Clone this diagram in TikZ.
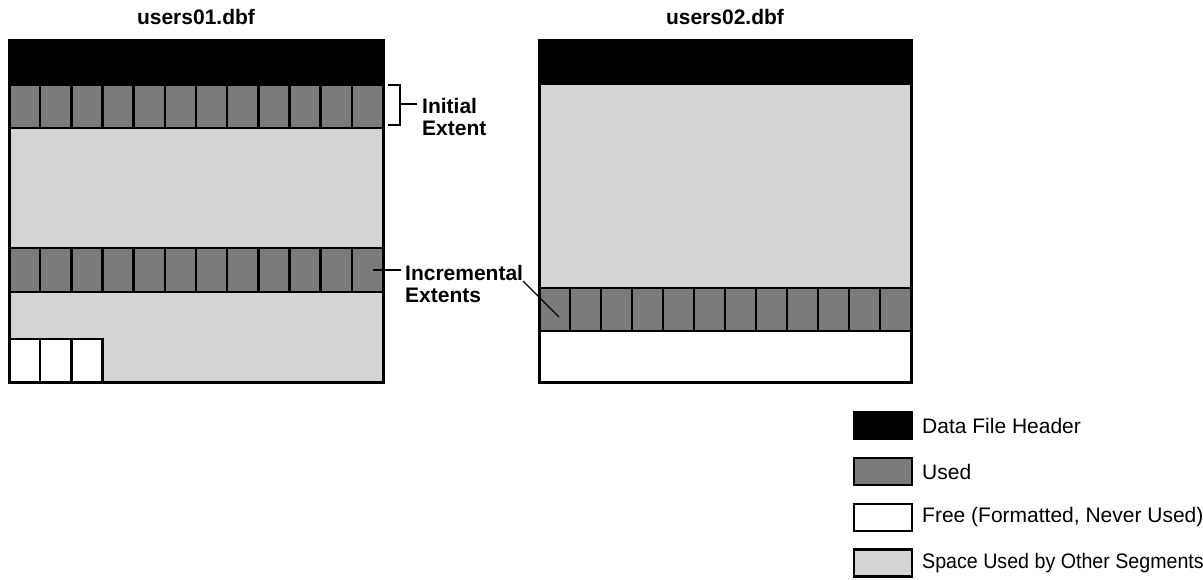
\documentclass[tikz,border=0pt]{standalone}
\usepackage{fontspec}
\setmainfont{Liberation Sans}
\definecolor{usedgray}{RGB}{123,123,123}
\definecolor{othergray}{RGB}{212,212,212}
\begin{document}
\begin{tikzpicture}[x=1pt,y=-1pt,
  lbl/.style={font=\fontsize{21}{22}\selectfont\bfseries, inner sep=0pt},
  legtxt/.style={font=\fontsize{21}{22}\selectfont, inner sep=0pt, anchor=west},
  legbox/.style={draw=black, line width=2.5pt, minimum width=58pt, minimum height=27pt, inner sep=0pt},
  usedcell/.style={fill=usedgray, draw=black, line width=2.5pt},
  freecell/.style={fill=white, draw=black, line width=2.5pt},
  outer/.style={draw=black, line width=3pt},
  conn/.style={draw=black, line width=1.2pt}]
\useasboundingbox (0,0) rectangle (1203,579);

% ---------- users01.dbf ----------
\node[lbl] (t1) at (196,17) {users01.dbf};
\fill[othergray] (9,40) rectangle (383,382);
\fill[black] (9,40) rectangle (383,85);
\foreach \i in {0,...,11} {
  \pgfmathsetmacro\xa{9+\i*31.1667}
  \pgfmathsetmacro\xb{9+(\i+1)*31.1667}
  \draw[usedcell] (\xa,85) rectangle (\xb,128);
  \draw[usedcell] (\xa,248) rectangle (\xb,292);
}
\foreach \i in {0,1,2} {
  \pgfmathsetmacro\xa{9+\i*31.1667}
  \pgfmathsetmacro\xb{9+(\i+1)*31.1667}
  \draw[freecell] (\xa,339) rectangle (\xb,382);
}
\draw[outer] (9,40) rectangle (383,382);

% ---------- users02.dbf ----------
\node[lbl] (t2) at (725,17) {users02.dbf};
\fill[othergray] (539,40) rectangle (911,288);
\fill[white] (539,331) rectangle (911,382);
\fill[black] (539,40) rectangle (911,85);
\foreach \i in {0,...,11} {
  \pgfmathsetmacro\xa{539+\i*31}
  \pgfmathsetmacro\xb{539+(\i+1)*31}
  \draw[usedcell] (\xa,288) rectangle (\xb,331);
}
\draw[outer] (539,40) rectangle (911,382);

% ---------- Initial Extent ----------
\node[lbl, anchor=west, align=left] (init) at (422,117) {Initial\\Extent};
\coordinate (bt) at (388,85);
\coordinate (btc) at (400,85);
\coordinate (bb) at (388,125);
\coordinate (bbc) at (400,125);
\coordinate (bm) at (400,104);
\coordinate (bme) at (417,104);
\draw[conn] (bt) -- (btc) -- (bbc) -- (bb);
\draw[conn] (bm) -- (bme);

% ---------- Incremental Extents ----------
\node[lbl, anchor=west, align=left] (incr) at (405,284) {Incremental\\Extents};
\coordinate (i1a) at (373,270);
\coordinate (i1b) at (401,270);
\draw[conn] (i1a) -- (i1b);
\coordinate (i2a) at (523,281);
\coordinate (i2b) at (559,317);
\draw[conn] (i2a) -- (i2b);

% ---------- Legend ----------
\node[legbox, fill=black] (k1) at (883,425.5) {};
\node[legbox, fill=usedgray] (k2) at (883,471.5) {};
\node[legbox, fill=white] (k3) at (883,517.5) {};
\node[legbox, fill=othergray] (k4) at (883,563) {};
\node[legtxt] (l1) at (922,425.5) {Data File Header};
\node[legtxt] (l2) at (922,471.5) {Used};
\node[legtxt] (l3) at (922,517.5) {Free (Formatted, Never Used)};
\node[legtxt] (l4) at (922,563) {\scalebox{0.935}[1]{Space Used by Other Segments}};
\end{tikzpicture}
\end{document}
